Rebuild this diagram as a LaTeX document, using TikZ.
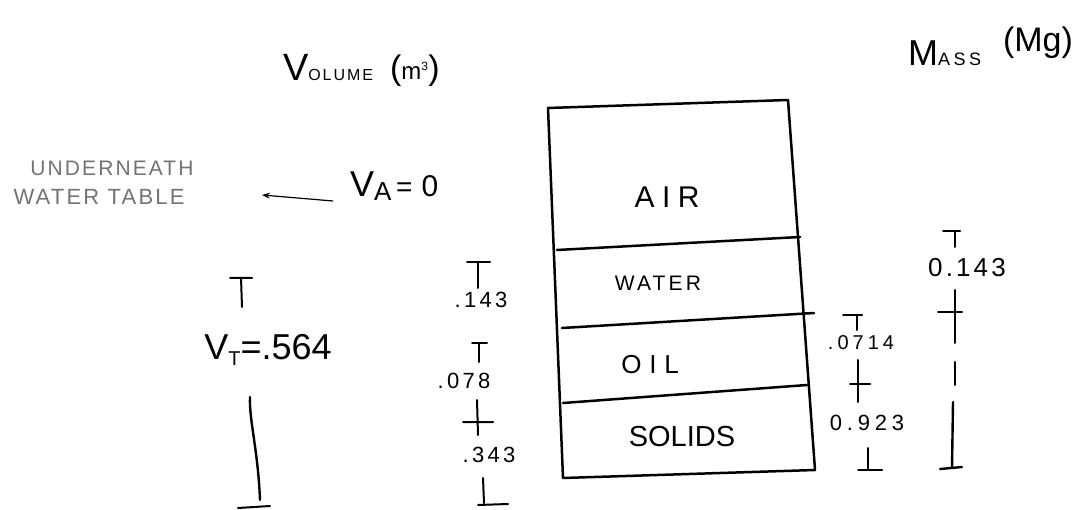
\documentclass[tikz,border=0pt]{standalone}
\usepackage{fontspec}
\setmainfont{Liberation Sans}
\usetikzlibrary{arrows.meta}
\newcommand\hsz[1]{\fontsize{#1}{#1}\selectfont}
\newcommand\spaced[1]{\addfontfeature{LetterSpace=#1}}
\begin{document}
\begin{tikzpicture}[x=1pt,y=-1pt,
  ink/.style={line width=2.5pt,line cap=round,line join=round},
  tick/.style={line width=2pt,line cap=round},
  txt/.style={inner sep=0pt,outer sep=0pt},
  faint/.style={txt,text=black!55},
  num/.style={txt,font=\hsz{22}\spaced{15}},
  phase/.style={txt}]
\useasboundingbox (0,0) rectangle (1078,510);

% titles
\node[txt,anchor=base west] (voltitle) at (283,81) {{\hsz{38}V}{\hsz{16}\spaced{12}OLUME}};
\node[txt,anchor=base west] (volunit) at (390,80) {{\hsz{34}(}{\hsz{24}m\textsuperscript{\hsz{12}3}}{\hsz{34})}};
\node[txt,anchor=base west] (masstitle) at (908,66) {{\hsz{36}M}{\hsz{18}\spaced{20}ASS}};
\node[txt,anchor=base west] (massunit) at (1003,52) {\hsz{34}(Mg)};

% note on the left
\node[faint,font=\hsz{21}\spaced{10}] (under) at (112,168) {UNDERNEATH};
\node[faint,font=\hsz{22}\spaced{10}] (wt) at (99,197) {WATER TABLE};
\node[txt,anchor=base west] (va) at (350,197) {{\hsz{36}V}\raisebox{-4pt}{\hsz{26}A}{\hsz{28}\,=\,\,}{\hsz{30}0}};
\coordinate (wtmark) at (262,195);
\draw[line width=1.2pt,-{Stealth[length=8pt,width=6pt]}] ([xshift=-17pt,yshift=-4pt]va.base west) -- (wtmark);

% phase column
\draw[ink] (548,108) -- (788,100) -- (815,470) -- (563,478) -- cycle;
\draw[ink] (557,250) -- (800,237);
\draw[ink] (562,328) -- (814,313);
\draw[ink] (563,403) -- (807,385);
\node[phase,font=\hsz{30}\spaced{25}] (air) at (667,197) {AIR};
\node[phase,font=\hsz{21}\spaced{15}] (water) at (658,283) {WATER};
\node[phase,font=\hsz{26}\spaced{30}] (oil) at (650,365) {OIL};
\node[phase,font=\hsz{29}] (solids) at (682,437) {SOLIDS};

% total volume
\draw[tick] (230,278) -- (252,278) (241,278) -- (242,307);
\node[txt,font=\hsz{36}] (vt) at (268,350) {V\raisebox{-6pt}{\hsz{20}T}=.564};
\draw[tick,line width=2.4pt] (250,397) .. controls (249,420) and (258,450) .. (260,500);
\draw[tick] (238,508) -- (270,506);

% volumes of the phases
\draw[tick] (467,262) -- (490,262) (478,262) -- (478,288);
\node[num] (vw) at (481,300) {.143};
\draw[tick] (472,343) -- (487,343) (479,343) -- (479,362);
\node[num] (vo) at (464,381) {.078};
\draw[tick] (477,400) -- (478,435) (463,422) -- (493,422);
\node[num] (vs) at (489,455) {.343};
\draw[tick] (483,478) -- (484,503) (478,505) -- (508,504);

% masses of the phases
\draw[tick] (843,315) -- (862,315) (857,315) -- (857,330);
\node[num,font=\hsz{20}\spaced{20}] (mo) at (861,343) {.0714};
\draw[tick] (858,360) -- (858,402) (850,384) -- (870,384);
\node[num,font=\hsz{22}\spaced{22}] (ms) at (867,423) {0.923};
\draw[tick] (868,448) -- (868,470) (858,470) -- (882,470);

% mass of the water
\draw[tick] (943,231) -- (960,231) (955,231) -- (955,247);
\node[num,font=\hsz{26}\spaced{12}] (mw) at (967,268) {0.143};
\draw[tick] (955,290) -- (955,343) (938,312) -- (962,312);
\draw[tick] (955,362) -- (955,385);
\draw[tick,line width=2.4pt] (953,402) -- (952,468) (940,469) -- (962,467);
\end{tikzpicture}
\end{document}
